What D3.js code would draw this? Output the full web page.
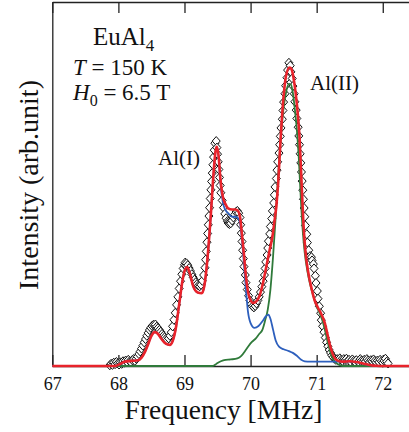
<!DOCTYPE html>
<html>
<head>
<meta charset="utf-8">
<script src="https://cdn.jsdelivr.net/npm/d3@7"></script>
<style>
  html, body { margin: 0; padding: 0; background: #fff; }
  svg { display: block; }
  text { font-family: "Liberation Serif", "Times New Roman", "DejaVu Serif", serif; fill: #111; }
</style>
</head>
<body>
<svg id="chart" width="409" height="432"></svg>
<script>
// Frequency ticks (MHz)
const xTicks = [67, 68, 69, 70, 71, 72];

// Measured 27Al NMR spectrum: [frequency MHz, intensity arb.]
const spectrum = [
  [67.87,0.2],[67.89,0.6],[67.91,0.3],[67.93,0.9],[67.95,0.5],[67.97,1.1],[67.99,0.7],[68.01,0.4],
  [68.03,1.0],[68.05,0.6],[68.07,1.3],[68.09,0.9],[68.11,1.5],[68.13,1.1],[68.15,1.7],[68.17,1.3],
  [68.19,1.0],[68.21,1.6],[68.23,1.9],[68.25,1.4],[68.27,2.0],[68.29,2.6],
  [68.31,3.3],[68.33,4.0],[68.35,4.8],[68.37,5.6],[68.39,6.5],[68.41,7.4],[68.43,8.3],[68.45,9.1],
  [68.47,9.9],[68.49,10.5],[68.51,11.0],[68.53,11.3],[68.55,11.0],[68.56,11.4],[68.58,10.8],[68.60,10.4],
  [68.62,9.9],[68.64,9.4],[68.66,8.8],[68.68,8.3],[68.70,7.9],[68.72,7.5],[68.74,7.2],[68.76,7.6],
  [68.78,8.3],[68.80,9.3],[68.82,10.9],[68.84,12.7],[68.86,14.6],[68.88,16.8],[68.90,19.0],[68.92,21.3],
  [68.94,23.3],[68.96,25.2],[68.98,26.8],[69.00,27.8],[69.01,28.4],[69.02,27.6],[69.03,28.2],[69.05,27.7],
  [69.07,26.9],[69.09,26.1],[69.11,25.2],[69.13,24.4],[69.15,23.7],[69.17,23.0],[69.19,22.5],[69.21,22.1],
  [69.23,21.9],[69.25,22.3],[69.27,23.4],[69.29,25.0],[69.31,27.0],[69.32,29.2],[69.33,31.5],[69.34,34.0],
  [69.35,36.4],[69.36,38.8],[69.37,41.2],[69.38,43.5],[69.39,46.0],[69.40,48.4],[69.41,50.7],[69.42,53.0],
  [69.43,55.3],[69.44,57.4],[69.45,59.3],[69.46,61.2],[69.48,61.8],[69.49,60.0],[69.50,58.2],[69.51,56.1],
  [69.52,54.0],[69.53,51.8],[69.54,49.6],[69.55,47.6],[69.57,45.5],[69.59,43.5],[69.61,41.8],[69.63,40.6],
  [69.65,39.8],[69.66,39.3],[69.67,39.6],[69.68,39.0],[69.69,39.5],[69.70,39.2],[69.72,40.0],[69.74,40.8],
  [69.76,41.6],[69.78,42.3],[69.80,42.6],[69.82,42.0],[69.84,40.8],[69.85,38.8],[69.86,36.5],[69.87,34.2],
  [69.88,31.8],[69.89,29.5],[69.90,27.3],[69.92,25.0],[69.93,22.9],[69.95,21.0],[69.97,19.3],[69.99,18.0],
  [70.01,17.0],[70.03,16.4],[70.05,16.1],[70.07,16.5],[70.09,17.2],[70.11,18.0],[70.13,19.0],[70.15,20.3],
  [70.17,21.8],[70.19,23.3],[70.21,25.0],[70.22,26.8],[70.23,28.6],[70.25,30.5],[70.26,32.4],[70.27,34.3],
  [70.29,36.3],[70.30,38.3],[70.32,40.5],[70.33,42.6],[70.35,44.8],[70.36,47.0],[70.37,49.2],[70.39,51.5],
  [70.40,53.8],[70.41,56.1],[70.43,58.5],[70.44,60.8],[70.45,63.1],[70.46,65.4],[70.48,67.8],[70.49,70.2],
  [70.50,72.5],[70.52,74.8],[70.53,77.0],[70.55,79.2],[70.56,81.3],[70.58,83.3],[70.60,82.5],[70.61,80.8],
  [70.63,79.0],[70.64,76.9],[70.66,74.8],[70.67,72.6],[70.69,70.3],[70.70,68.0],[70.72,65.6],[70.73,63.2],
  [70.74,60.8],[70.75,58.3],[70.76,55.8],[70.77,53.3],[70.78,50.8],[70.79,48.3],[70.80,45.8],[70.81,43.4],
  [70.82,41.0],[70.83,38.6],[70.85,36.2],[70.86,33.9],[70.88,31.8],[70.90,30.2],[70.91,29.5],[70.92,29.9],
  [70.93,29.0],[70.95,28.0],[70.96,26.8],[70.98,24.8],[70.99,22.8],[71.01,20.6],[71.02,18.5],[71.04,16.4],
  [71.06,14.5],[71.07,12.6],[71.09,10.9],[71.11,9.3],[71.13,7.8],[71.15,6.5],[71.17,5.4],[71.19,4.4],
  [71.21,3.6],[71.23,2.9],[71.25,2.4],[71.27,2.0],[71.29,1.7],
  [71.31,1.9],[71.33,1.5],[71.35,2.1],[71.37,1.7],[71.39,1.4],[71.41,1.9],[71.43,1.6],[71.45,2.0],
  [71.47,1.4],[71.49,1.7],[71.51,1.2],[71.54,1.8],[71.56,1.4],[71.58,1.1],[71.60,1.6],[71.63,1.2],
  [71.66,1.9],[71.68,1.5],[71.70,1.2],[71.72,1.7],[71.74,1.3],[71.76,1.9],[71.78,1.5],[71.80,1.1],
  [71.82,1.6],[71.84,1.3],[71.86,1.8],[71.88,1.4],[71.90,1.0],[71.92,1.5],[71.94,1.1],[71.96,1.7],
  [71.98,1.3],[72.00,0.9],[72.02,1.4],[72.04,2.0],[72.06,1.2],[72.08,0.7]
];

// Simulated Al(I) site contribution
const fitAl1 = [
  [67.0,0],[67.95,0],[68.0,0.3],[68.05,0.8],[68.1,1.2],[68.2,1.4],[68.3,1.6],[68.35,2.3],[68.4,3.8],
  [68.45,6.0],[68.5,8.3],[68.55,9.3],[68.6,8.8],[68.65,7.5],[68.7,6.4],[68.75,5.9],[68.78,5.8],[68.82,6.8],
  [68.87,10.5],[68.92,17],[68.97,23.5],[69.01,26.6],[69.04,27.2],[69.08,25.5],[69.13,22],[69.2,20.2],
  [69.26,20],[69.3,22],[69.35,30],[69.4,42],[69.44,53],[69.47,59],[69.49,60.2],[69.52,56.5],[69.54,51],
  [69.58,45],[69.62,42.8],[69.66,42],[69.72,41],[69.77,41],[69.81,40.6],[69.84,39.3],[69.87,34.5],
  [69.9,28],[69.93,21],[69.96,15],[70.0,11.8],[70.06,10.5],[70.12,11],[70.18,12.3],[70.23,13.6],
  [70.27,14.1],[70.3,13],[70.34,10],[70.38,7],[70.43,5.3],[70.5,4.6],[70.58,4.1],[70.64,3.6],[70.7,2.8],
  [70.76,1.8],[70.82,1.3],[70.9,1.2],[71.1,1.2],[71.3,1.2],[71.5,1.2],[71.6,1.0],[71.7,0.6],[71.8,0.25],
  [71.9,0.05],[72.0,0],[72.4,0]
];

// Simulated Al(II) site contribution
const fitAl2 = [
  [67.0,0],[69.42,0],[69.46,0.3],[69.5,0.8],[69.55,1.3],[69.6,1.6],[69.7,1.8],[69.8,2.1],[69.86,2.8],
  [69.92,4.2],[69.97,5.5],[70.02,6.6],[70.08,7.6],[70.13,8.8],[70.18,10],[70.22,12.5],[70.26,15.5],
  [70.3,21],[70.34,30],[70.38,41],[70.42,53],[70.46,63.5],[70.5,71],[70.54,75.5],[70.58,77.5],[70.61,77.3],
  [70.64,75],[70.67,70.5],[70.7,65],[70.73,57],[70.76,46],[70.79,37],[70.82,31],[70.86,26],[70.9,22.5],
  [70.95,19.2],[71.0,16.3],[71.05,14.3],[71.09,12.3],[71.13,9.5],[71.17,6.3],[71.21,3.6],[71.25,1.8],
  [71.3,0.8],[71.35,0.25],[71.4,0],[72.4,0]
];

// Total simulated spectrum
const fitTotal = [
  [67.0,0],[67.95,0],[68.0,0.3],[68.05,0.8],[68.1,1.2],[68.2,1.4],[68.3,1.6],[68.35,2.3],[68.4,3.8],
  [68.45,6.0],[68.5,8.3],[68.55,9.3],[68.6,8.8],[68.65,7.5],[68.7,6.4],[68.75,5.9],[68.78,5.8],[68.82,6.8],
  [68.87,10.5],[68.92,17],[68.97,23.5],[69.01,26.6],[69.04,27.2],[69.08,25.5],[69.13,22],[69.2,20.2],
  [69.26,20],[69.3,22],[69.35,30],[69.4,42],[69.44,53],[69.47,59],[69.49,60.2],[69.52,57],[69.54,52],
  [69.58,46.5],[69.62,44.5],[69.66,43.3],[69.72,43],[69.77,43],[69.81,42.6],[69.84,41],[69.87,36],
  [69.9,30.5],[69.93,24.5],[69.96,20.5],[69.99,18.5],[70.04,17.3],[70.09,17.8],[70.14,19.5],[70.19,23],
  [70.24,27.5],[70.29,32],[70.33,35.5],[70.36,39.5],[70.39,44],[70.42,51],[70.45,61],[70.49,72],
  [70.54,80],[70.59,82],[70.62,81.5],[70.66,78],[70.7,72],[70.74,63],[70.77,51],[70.8,39],[70.83,31.5],
  [70.87,26],[70.92,21.5],[70.97,18],[71.02,16],[71.07,14.3],[71.12,12],[71.16,9],[71.2,5.8],[71.24,3.4],
  [71.28,2.0],[71.33,1.4],[71.4,1.2],[71.5,1.3],[71.6,1.1],[71.7,0.7],[71.8,0.3],[71.9,0.05],[72.0,0],
  [72.4,0]
];

const svg = d3.select("#chart");
const plotLeft = 52.3, plotRight = 409.2, plotTop = 2, plotBottom = 366;

const x = d3.scaleLinear().domain([67, 72.4]).range([plotLeft, plotRight]);
const y = d3.scaleLinear().domain([0, 100]).range([plotBottom, plotTop]);

const line = d3.line()
  .x(d => x(d[0]))
  .y(d => y(d[1]))
  .curve(d3.curveMonotoneX);

// Frame: bottom axis, top axis (both with inward ticks), left spine
const axisColor = "#222";
const bottomAxis = svg.append("g")
  .attr("transform", `translate(0,${plotBottom})`)
  .call(d3.axisBottom(x).tickValues(xTicks).tickSizeInner(-11).tickSizeOuter(0).tickFormat(d3.format("d")));
bottomAxis.select(".domain").attr("stroke", axisColor).attr("stroke-width", 1.3);
bottomAxis.selectAll(".tick line").attr("stroke", axisColor).attr("stroke-width", 1.3);
bottomAxis.selectAll(".tick text")
  .attr("y", 24).attr("dy", null)
  .style("font-family", '"Liberation Serif", "Times New Roman", serif')
  .style("font-size", "18px").attr("fill", "#111");

const topAxis = svg.append("g")
  .attr("transform", `translate(0,${plotTop})`)
  .call(d3.axisTop(x).tickValues(xTicks).tickSizeInner(-11).tickSizeOuter(0).tickFormat(""));
topAxis.select(".domain").attr("stroke", axisColor).attr("stroke-width", 1.3);
topAxis.selectAll(".tick line").attr("stroke", axisColor).attr("stroke-width", 1.3);

svg.append("g")
  .attr("transform", `translate(${plotLeft},0)`)
  .call(d3.axisLeft(y).tickValues([]).tickSizeOuter(0))
  .select(".domain").attr("stroke", axisColor).attr("stroke-width", 1.3);

// Experimental points: open diamonds
const plot = svg.append("g");
plot.selectAll("path.pt")
  .data(spectrum)
  .join("path")
  .attr("class", "pt")
  .attr("d", d => {
    const cx = x(d[0]), cy = y(d[1]);
    return `M${cx},${cy - 4.5}L${cx + 4},${cy}L${cx},${cy + 4.5}L${cx - 4},${cy}Z`;
  })
  .attr("fill", "#fff")
  .attr("stroke", "#111")
  .attr("stroke-width", 1);

// Simulated components and total
plot.append("path").datum(fitAl2).attr("d", line)
  .attr("fill", "none").attr("stroke", "#2f7a3a").attr("stroke-width", 1.8);
plot.append("path").datum(fitAl1).attr("d", line)
  .attr("fill", "none").attr("stroke", "#2d5fbd").attr("stroke-width", 1.8);
plot.append("path").datum(fitTotal).attr("d", line)
  .attr("fill", "none").attr("stroke", "#e8232b").attr("stroke-width", 2.6);

// Axis titles
svg.append("text")
  .attr("x", 223.5).attr("y", 419)
  .attr("text-anchor", "middle")
  .style("font-size", "27.5px")
  .text("Frequency [MHz]");

svg.append("text")
  .attr("transform", "translate(37.5,185) rotate(-90)")
  .attr("text-anchor", "middle")
  .style("font-size", "28px")
  .text("Intensity (arb.unit)");

// Sample and conditions
const t1 = svg.append("text").attr("x", 93).attr("y", 45).style("font-size", "25px");
t1.append("tspan").text("EuAl");
t1.append("tspan").attr("dy", 6).style("font-size", "17px").text("4");

const t2 = svg.append("text").attr("x", 73).attr("y", 75).style("font-size", "23px");
t2.append("tspan").style("font-style", "italic").text("T");
t2.append("tspan").text(" = 150 K");

const t3 = svg.append("text").attr("x", 73).attr("y", 100).style("font-size", "23px");
t3.append("tspan").style("font-style", "italic").text("H");
t3.append("tspan").attr("dy", 6).style("font-size", "16px").text("0");
t3.append("tspan").attr("dy", -6).text(" = 6.5 T");

// Site labels
svg.append("text").attr("x", 158).attr("y", 165).style("font-size", "21px").text("Al(I)");
svg.append("text").attr("x", 310).attr("y", 90).style("font-size", "21px").text("Al(II)");
</script>
</body>
</html>
